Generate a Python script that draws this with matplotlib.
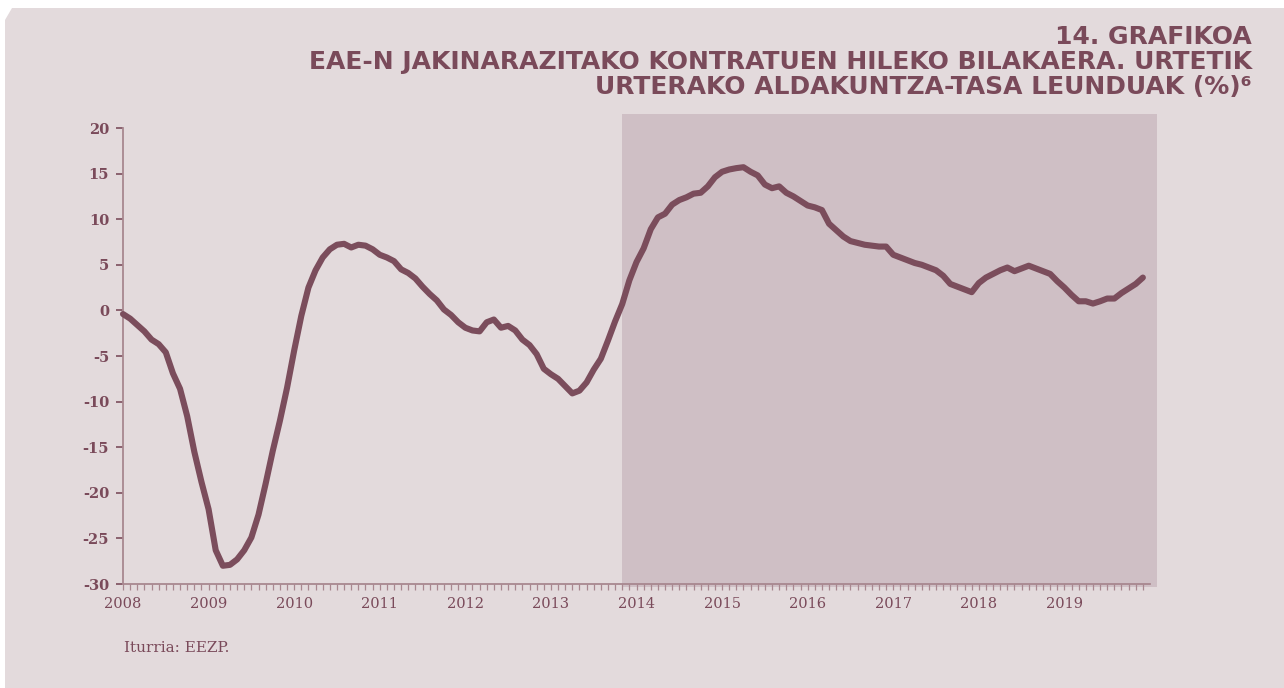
import numpy as np
import matplotlib
matplotlib.use("Agg")
import matplotlib.pyplot as plt
from matplotlib.patches import Polygon, Rectangle

# hileko datuak, 2008-01 .. 2019-12
years = list(range(2008, 2020))
rates = [
    # 2008
    -0.4, -0.9, -1.6, -2.3, -3.2, -3.7, -4.6, -6.9, -8.6, -11.6, -15.5, -18.8,
    # 2009
    -21.8, -26.3, -28.0, -27.9, -27.3, -26.3, -24.9, -22.4, -19.0, -15.4, -12.1, -8.5,
    # 2010
    -4.4, -0.6, 2.5, 4.4, 5.8, 6.7, 7.2, 7.3, 6.9, 7.2, 7.1, 6.7,
    # 2011
    6.1, 5.8, 5.4, 4.5, 4.1, 3.5, 2.6, 1.8, 1.1, 0.1, -0.5, -1.3,
    # 2012
    -1.9, -2.2, -2.3, -1.3, -1.0, -1.9, -1.7, -2.2, -3.2, -3.8, -4.8, -6.4,
    # 2013
    -7.0, -7.5, -8.3, -9.1, -8.8, -7.9, -6.5, -5.3, -3.3, -1.2, 0.7, 3.3,
    # 2014
    5.3, 6.8, 8.9, 10.2, 10.6, 11.6, 12.1, 12.4, 12.8, 12.9, 13.6, 14.6,
    # 2015
    15.2, 15.45, 15.6, 15.7, 15.2, 14.8, 13.8, 13.4, 13.6, 12.9, 12.5, 12.0,
    # 2016
    11.5, 11.3, 11.0, 9.5, 8.8, 8.1, 7.6, 7.4, 7.2, 7.1, 7.0, 7.0,
    # 2017
    6.1, 5.8, 5.5, 5.2, 5.0, 4.7, 4.4, 3.8, 2.9, 2.6, 2.3, 2.0,
    # 2018
    3.0, 3.6, 4.0, 4.4, 4.7, 4.3, 4.6, 4.9, 4.6, 4.3, 4.0, 3.2,
    # 2019
    2.5, 1.7, 1.0, 1.0, 0.75, 1.0, 1.3, 1.3, 1.9, 2.4, 2.9, 3.6,
]
months = 2008 + np.arange(len(rates)) / 12.0

shade_start = 2013 + 10 / 12.0   # 2013ko azaroa
shade_end = 2020.08

yticks = list(range(-30, 21, 5))

line_col = "#7b4d5c"
text_col = "#7a4a5a"
bg_col = "#e3dadc"
shade_col = "#cfbfc5"
axis_col = "#a8878f"

W, H = 1284, 688
fig = plt.figure(figsize=(W / 100, H / 100), dpi=100, facecolor="white")

# atzeko panela (goiko ertza moztuta), pixeletan -> irudi-frakzioa
corners = np.array([(5, 0), (5, H - 20), (12, H - 8), (W, H - 8), (W, 0)], float)
panel = Polygon(corners / np.array([W, H]), closed=True, transform=fig.transFigure,
                facecolor=bg_col, edgecolor="none", zorder=-10)
fig.patches.append(panel)

ax = fig.add_axes([123 / W, 1 - 584 / H, 1027 / W, 456 / H])
ax.set_facecolor("none")

ax.add_patch(Rectangle((shade_start, -30.33), shade_end - shade_start, 21.5 + 30.33,
                       facecolor=shade_col, edgecolor="none", clip_on=False, zorder=0))

ax.plot(months, rates, color=line_col, lw=4.4, solid_joinstyle="round",
        solid_capstyle="round", zorder=3, clip_on=False)

ax.set_xlim(2008, 2020)
ax.set_ylim(-30, 20)
ax.set_xticks(years)
ax.set_xticklabels([str(y) for y in years])
ax.set_xticks(2008 + np.arange(1, 144) / 12.0, minor=True)
ax.set_yticks(yticks)
ax.set_yticklabels([str(v) for v in yticks])

for s in ["top", "right"]:
    ax.spines[s].set_visible(False)
for s in ["left", "bottom"]:
    ax.spines[s].set_color(axis_col)
    ax.spines[s].set_linewidth(1.3)

ax.tick_params(axis="x", which="both", direction="out", length=4, width=0.9,
               color=axis_col, labelcolor=text_col, labelsize=10.5, pad=5)
ax.tick_params(axis="y", direction="out", length=5, width=1.2,
               color=line_col, labelcolor=text_col, labelsize=10.5, pad=5)
for lab in ax.get_xticklabels():
    lab.set_family("DejaVu Serif")
for lab in ax.get_yticklabels():
    lab.set_family("DejaVu Serif")
    lab.set_fontweight("bold")

title_kw = dict(ha="right", va="center", color=text_col, fontsize=18,
                fontweight="heavy", family="DejaVu Sans")
fig.text(1252 / W, 1 - 37 / H, "14. GRAFIKOA", **title_kw)
fig.text(1252 / W, 1 - 62 / H,
         "EAE-N JAKINARAZITAKO KONTRATUEN HILEKO BILAKAERA. URTETIK", **title_kw)
fig.text(1252 / W, 1 - 87 / H,
         "URTERAKO ALDAKUNTZA-TASA LEUNDUAK (%)\u2076", **title_kw)

fig.text(124 / W, 1 - 648 / H, "Iturria: EEZP.", ha="left", va="center",
         color=text_col, fontsize=11, family="DejaVu Serif")

fig.savefig("out.png", dpi=100, facecolor="white")
